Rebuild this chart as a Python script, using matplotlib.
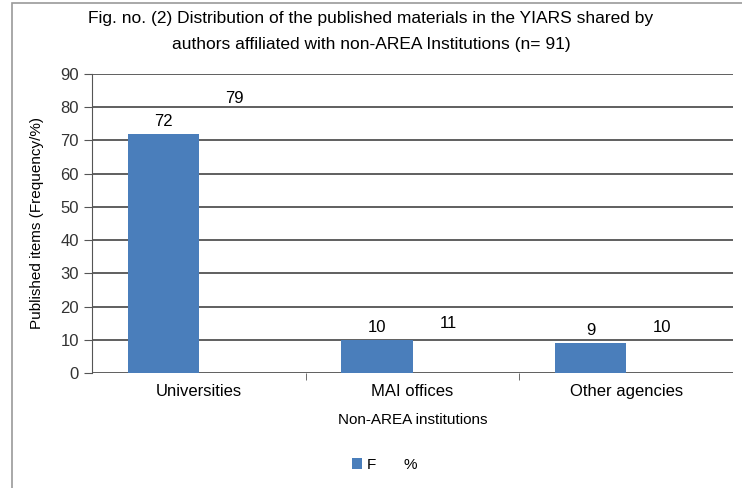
import numpy as np
import matplotlib
matplotlib.use("Agg")
import matplotlib.pyplot as plt
from matplotlib.patches import Rectangle

# data
categories = ["Universities", "MAI offices", "Other agencies"]
freq = [72, 10, 9]
pct = [79, 11, 10]

plt.rcParams['font.family'] = ['Liberation Sans', 'DejaVu Sans']

fig = plt.figure(figsize=(7.42, 4.88), dpi=100)
ax = fig.add_axes([0.124, 0.2357, 0.864, 0.6127])

# chart area border (left and top edges visible)
fig.patches.append(Rectangle((12 / 742, -0.05), 1.1, 1 - 3 / 488 + 0.05,
                             transform=fig.transFigure, fill=False,
                             edgecolor="#9a9a9a", lw=1.2))

x = np.arange(len(categories))
w = 1 / 3
b1 = ax.bar(x - w / 2, freq, w, color="#4a7ebb", label="F")
# the % series is drawn with no fill in the original
b2 = ax.bar(x + w / 2, pct, w, facecolor="none", edgecolor="none", label="%")

for rect, v in zip(b1, freq):
    ax.text(rect.get_x() + rect.get_width() / 2, v + 1.5, str(v),
            ha="center", va="bottom", fontsize=12)
for rect, v in zip(b2, pct):
    ax.text(rect.get_x() + rect.get_width() / 2, v + 1.5, str(v),
            ha="center", va="bottom", fontsize=12)

ax.set_ylim(0, 90)
ax.set_yticks(range(0, 91, 10))
ax.set_xlim(-0.5, 2.5)
ax.set_xticks(x)
ax.set_xticklabels(categories, fontsize=12)
ax.set_xticks([0.5, 1.5], minor=True)
ax.tick_params(axis="x", which="major", length=0, pad=8)
ax.tick_params(axis="x", which="minor", length=5, color="#555555")
ax.tick_params(axis="y", length=6, color="#555555", labelsize=12, labelcolor="#333333")

ax.yaxis.grid(True, color="#444444", lw=1.2)
ax.set_axisbelow(True)
for s in ["top", "right", "bottom"]:
    ax.spines[s].set_visible(False)
ax.spines["left"].set_color("#555555")

ax.set_xlabel("Non-AREA institutions", fontsize=11, labelpad=10)
ax.set_ylabel("Published items (Frequency/%)", fontsize=11, labelpad=12)

fig.text(0.5, 0.963, "Fig. no. (2) Distribution of the published materials in the YIARS shared by",
         ha="center", va="center", fontsize=12.5)
fig.text(0.5, 0.908, "authors affiliated with non-AREA Institutions (n= 91)",
         ha="center", va="center", fontsize=12.5)

fig.legend(handles=[b1, b2], labels=["F", "%"], loc="center",
           bbox_to_anchor=(0.518, 0.047), ncol=2, frameon=False, fontsize=11,
           handlelength=0.7, handleheight=0.7, columnspacing=0.8, handletextpad=0.3)

fig.savefig("out.png", dpi=100)
